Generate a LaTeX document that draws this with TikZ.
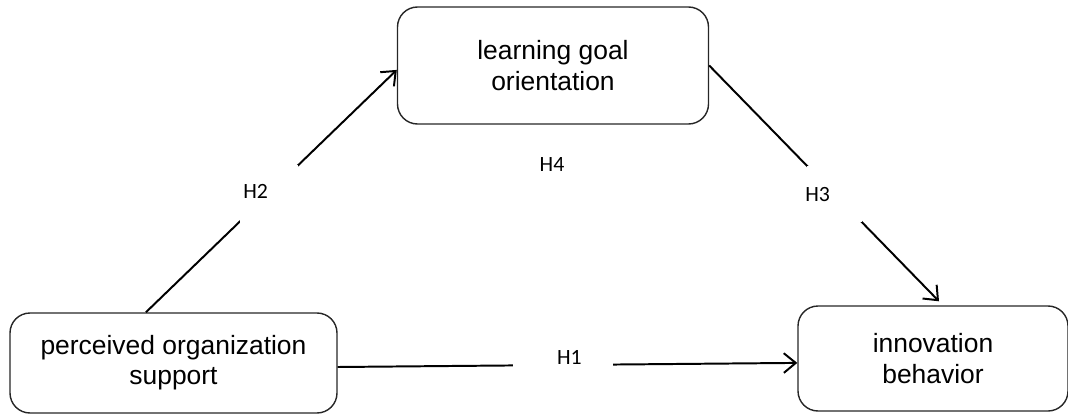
\documentclass[tikz,border=0pt]{standalone}
\usepackage{fontspec}
\setmainfont{Liberation Sans}
\newfontfamily\hypfont{Carlito}
\usetikzlibrary{arrows.meta}

\begin{document}
\begin{tikzpicture}[main_node/.style={rectangle,rounded corners=0.5cm,draw=black!85,line width=1pt,align=center,font=\fontsize{18.8}{21.5}\selectfont},
    link/.style={line width=1.4pt,-{Straight Barb[length=8.5pt,width=14pt,line width=1.4pt]}},
    hyp_text/.style={inner sep=0pt,font=\hypfont\fontsize{15.5}{18}\selectfont},
    hyp_gap/.style={fill=white,inner sep=0pt}]
    \useasboundingbox (0,0) rectangle (26.7,10.35);
    \node[main_node,minimum width=8.175cm,minimum height=2.5cm] (1) at (4.3375, 1.275) {perceived organization\\support};
    \node[main_node,minimum width=7.775cm,minimum height=2.925cm] (2) at (13.825, 8.7125) {learning goal\\orientation};
    \node[main_node,minimum width=6.75cm,minimum height=2.625cm] (3) at (23.325, 1.3875) {innovation\\behavior};
    \draw[link] ([yshift=-0.1cm]1.east) -- node[hyp_gap,pos=0.49,minimum width=2.5cm,minimum height=0.3cm,label={[hyp_text,xshift=0.16cm,yshift=0.2cm]center:H1}] (h1) {} ([yshift=-0.11cm]3.west);
    \draw[link] ([xshift=-0.69cm]1.north) -- node[hyp_gap,pos=0.49,minimum size=1.45cm,label={[hyp_text,xshift=-0.33cm,yshift=0.05cm]center:H2}] (h2) {} ([yshift=-0.11cm]2.west);
    \draw[link] (2.east) -- node[hyp_gap,pos=0.545,minimum size=1.38cm,label={[hyp_text,xshift=-0.42cm]center:H3}] (h3) {} ([xshift=0.15cm,yshift=0.1cm]3.north);
    \node[hyp_text] (h4) at (13.8, 6.225) {H4};
\end{tikzpicture}
\end{document}
